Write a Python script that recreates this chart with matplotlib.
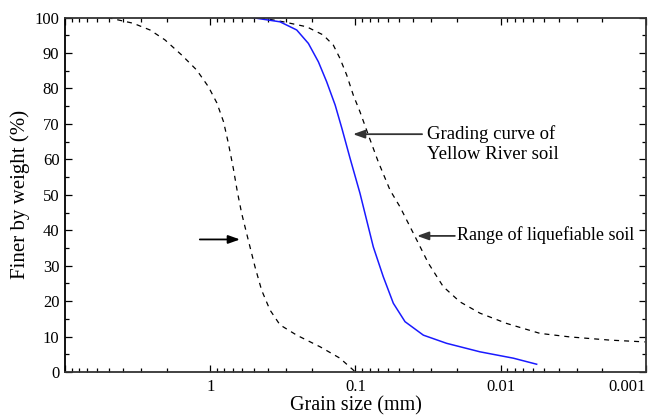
import matplotlib
matplotlib.use("Agg")
import matplotlib.pyplot as plt
from matplotlib.ticker import FixedLocator, NullFormatter, MultipleLocator

plt.rcParams['font.family'] = ['Liberation Serif', 'DejaVu Serif']

# Coarse boundary of liquefiable range (mm, % finer)
coarse_d = [5.1, 3.40, 2.60, 2.05, 1.57, 1.24, 1.03, 0.90, 0.81, 0.75, 0.694,
            0.651, 0.608, 0.547, 0.492, 0.443, 0.388, 0.331, 0.254, 0.175,
            0.128, 0.1]
coarse_p = [100, 98.4, 96.5, 93.7, 89.4, 85.2, 80.5, 75.9, 70.6, 64.5, 57.5,
            50.9, 44.8, 37.2, 29.7, 23.1, 17.5, 13.3, 10.4, 7.1, 3.9, 0]

# Yellow River soil grading curve
yr_d = [0.51, 0.479, 0.331, 0.254, 0.211, 0.180, 0.158, 0.138, 0.124, 0.109,
        0.0931, 0.0861, 0.0754, 0.0644, 0.0549, 0.0456, 0.0341, 0.0236,
        0.0139, 0.00818, 0.00566]
yr_p = [100, 99.8, 98.8, 96.5, 92.7, 87.5, 81.9, 75.3, 68.7, 60.3, 50.4,
        44.8, 35.3, 26.9, 19.4, 14.2, 10.4, 8.1, 5.7, 3.9, 2.2]

# Fine boundary of liquefiable range
fine_d = [0.455, 0.314, 0.217, 0.167, 0.142, 0.128, 0.115, 0.1035, 0.0931,
          0.0816, 0.0697, 0.0578, 0.0494, 0.0389, 0.0315, 0.0249, 0.0191,
          0.0139, 0.0091, 0.00537, 0.00334, 0.00177, 0.00102]
fine_p = [100, 98.8, 97.4, 95.1, 92.2, 88.5, 83.8, 78.1, 73.4, 66.9, 59.3,
          51.3, 46.6, 38.2, 30.7, 24.1, 19.8, 16.6, 13.7, 10.9, 9.9, 9.0, 8.5]

x_ticks = [1, 0.1, 0.01, 0.001]
x_ticklabels = ['1', '0.1', '0.01', '0.001']
y_ticks = list(range(0, 101, 10))

fig = plt.figure(figsize=(6.48, 4.18), dpi=100)
ax = fig.add_axes([0.1003, 0.110, 0.8966, 0.848])

ax.plot(coarse_d, coarse_p, color='black', lw=0.9, ls=(0, (4, 4)))
ax.plot(fine_d, fine_p, color='black', lw=0.9, ls=(0, (4, 4)))
ax.plot(yr_d, yr_p, color='#1a1aff', lw=1.1)

ax.set_xscale('log')
ax.set_xlim(10, 0.001)
ax.set_ylim(0, 100)

ax.set_xticks([10] + x_ticks)
ax.set_xticklabels([''] + x_ticklabels)
minors = [m * 10.0 ** e for e in range(-3, 1) for m in range(2, 10)]
ax.xaxis.set_minor_locator(FixedLocator(minors))
ax.xaxis.set_minor_formatter(NullFormatter())
ax.set_yticks(y_ticks)
ax.yaxis.set_minor_locator(MultipleLocator(5))

ax.tick_params(which='both', direction='in', top=True, right=True,
               labelsize=12, width=0.9, colors='black')
ax.tick_params(which='major', length=5)
ax.tick_params(which='minor', length=3)
ax.tick_params(axis='x', pad=5)
ax.tick_params(axis='y', pad=4)

# keep the last label inside the figure
ax.get_xticklabels()[-1].set_horizontalalignment('right')

for side in ['left', 'bottom', 'top', 'right']:
    ax.spines[side].set_linewidth(1.3)
    ax.spines[side].set_color('#333333')
ax.spines['left'].set_color('black')

ax.set_xlabel('Grain size (mm)', fontsize=14.5, labelpad=1)
ax.set_ylabel('Finer by weight (%)', fontsize=15, labelpad=3)

arrow_kw = dict(arrowstyle='-|>,head_length=0.7,head_width=0.25',
                color='black', lw=1.3, shrinkA=0, shrinkB=0)

ax.annotate('', xy=(0.104, 67.1), xytext=(0.0348, 67.1),
            arrowprops=dict(arrow_kw, color='#333333'))
ax.text(0.0322, 64.3, 'Grading curve of\nYellow River soil', fontsize=13.5,
        ha='left', va='center', linespacing=1.2)

ax.annotate('', xy=(0.0377, 38.4), xytext=(0.0207, 38.4),
            arrowprops=dict(arrow_kw, color='#333333'))
ax.text(0.0199, 38.6, 'Range of liquefiable soil', fontsize=13,
        ha='left', va='center')

ax.annotate('', xy=(0.624, 37.4), xytext=(1.18, 37.4),
            arrowprops=arrow_kw)

fig.savefig('out.png', dpi=100)
